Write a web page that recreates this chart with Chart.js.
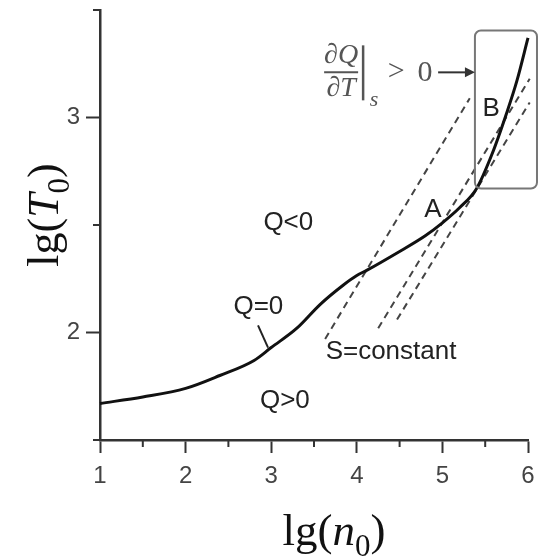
<!DOCTYPE html>
<html>
<head>
<meta charset="utf-8">
<script src="https://cdn.jsdelivr.net/npm/chart.js@4.4.1/dist/chart.umd.min.js"></script>
<style>
  html, body { margin: 0; padding: 0; background: #fff; }
  #wrap { width: 553px; height: 558px; }
</style>
</head>
<body>
<div id="wrap"><canvas id="phaseChart" width="553" height="558"></canvas></div>
<script>
// Q=0 curve
const curveX = [1, 1.5, 2, 2.4, 2.8, 3.0, 3.3, 3.57, 3.84, 4.0, 4.12, 4.47, 4.8, 5.0, 5.2, 5.4, 5.58, 5.75, 5.87, 6.0];
const curveY = [1.67, 1.70, 1.74, 1.80, 1.87, 1.93, 2.02, 2.13, 2.22, 2.265, 2.29, 2.37, 2.45, 2.51, 2.58, 2.67, 2.83, 3.02, 3.17, 3.37];

// S=constant lines (start, end)
const isoX1 = [3.63, 5.32];
const isoY1 = [1.97, 3.09];
const isoX2 = [4.25, 6.02];
const isoY2 = [2.02, 3.18];
const isoX3 = [4.47, 6.02];
const isoY3 = [2.06, 3.07];

const yTicks = [2, 3];
const xMinor = [1.5, 2.5, 3.5, 4.5, 5.5];
const yMinor = [1.5, 2.5, 3.5];

const labelText = ['Q<0', 'Q=0', 'Q>0', 'A', 'B', 'S=constant'];
const labelX = [3.20, 2.85, 3.16, 4.89, 5.57, 4.40];
const labelY = [2.51, 2.12, 1.68, 2.57, 3.04, 1.91];

const pointerX = [2.846, 2.963];
const pointerY = [2.033, 1.930];
const arrowX = [4.95, 5.38];
const arrowY = [3.21, 3.21];
const boxX = [5.38, 6.105];
const boxY = [3.405, 2.67];

const sansFont = '"Liberation Sans", Arial, sans-serif';
const serifFont = '"Liberation Serif", "Times New Roman", serif';

function toPoints(xs, ys) {
    return xs.map((x, i) => ({ x: x, y: ys[i] }));
}

function dashed(xs, ys) {
    return {
        data: toPoints(xs, ys),
        showLine: true,
        borderColor: '#444',
        borderWidth: 2,
        borderDash: [7, 5],
        pointRadius: 0,
        clip: false,
    };
}

// draws things like lg(T0) with italic letter and subscript
function drawMath(ctx, parts, size) {
    let widths = parts.map(p => {
        ctx.font = (p.italic ? 'italic ' : '') + Math.round(p.sub ? size * 0.7 : size) + 'px ' + serifFont;
        return ctx.measureText(p.t).width;
    });
    let total = widths.reduce((a, b) => a + b, 0);
    let x = -total / 2;
    parts.forEach((p, i) => {
        ctx.font = (p.italic ? 'italic ' : '') + Math.round(p.sub ? size * 0.7 : size) + 'px ' + serifFont;
        ctx.fillText(p.t, x, p.sub ? size * 0.25 : 0);
        x += widths[i];
    });
}

function drawDerivative(ctx, ax, ay) {
    ctx.save();
    ctx.fillStyle = '#555';
    ctx.strokeStyle = '#555';
    ctx.textAlign = 'center';
    ctx.textBaseline = 'middle';
    ctx.font = 'italic 28px ' + serifFont;
    ctx.fillText('\u2202Q', ax - 97, ay - 17);
    ctx.fillText('\u2202T', ax - 97, ay + 16);
    ctx.lineWidth = 2;
    ctx.beginPath();
    ctx.moveTo(ax - 114, ay);
    ctx.lineTo(ax - 80, ay);
    ctx.stroke();
    ctx.lineWidth = 2.5;
    ctx.beginPath();
    ctx.moveTo(ax - 75, ay - 27);
    ctx.lineTo(ax - 75, ay + 28);
    ctx.stroke();
    ctx.font = 'italic 22px ' + serifFont;
    ctx.fillText('s', ax - 64, ay + 28);
    ctx.font = '30px ' + serifFont;
    ctx.fillText('>', ax - 42, ay);
    ctx.fillText('0', ax - 13, ay + 1);
    ctx.restore();
}

const extras = {
    id: 'extras',
    afterDatasetsDraw(chart) {
        const ctx = chart.ctx;
        const xs = chart.scales.x;
        const ys = chart.scales.y;
        const area = chart.chartArea;

        ctx.save();
        // minor ticks
        ctx.strokeStyle = '#333';
        ctx.lineWidth = 2;
        xMinor.forEach(v => {
            const px = xs.getPixelForValue(v);
            ctx.beginPath();
            ctx.moveTo(px, area.bottom);
            ctx.lineTo(px, area.bottom + 7);
            ctx.stroke();
        });
        yMinor.forEach(v => {
            const py = ys.getPixelForValue(v);
            ctx.beginPath();
            ctx.moveTo(area.left - 7, py);
            ctx.lineTo(area.left, py);
            ctx.stroke();
        });

        // region labels
        ctx.fillStyle = '#222';
        ctx.font = '26px ' + sansFont;
        ctx.textAlign = 'center';
        ctx.textBaseline = 'middle';
        labelText.forEach((t, i) => {
            ctx.fillText(t, xs.getPixelForValue(labelX[i]), ys.getPixelForValue(labelY[i]));
        });

        // pointer from Q=0 to the curve
        ctx.strokeStyle = '#222';
        ctx.lineWidth = 2;
        ctx.beginPath();
        ctx.moveTo(xs.getPixelForValue(pointerX[0]), ys.getPixelForValue(pointerY[0]));
        ctx.lineTo(xs.getPixelForValue(pointerX[1]), ys.getPixelForValue(pointerY[1]));
        ctx.stroke();

        // box round region B
        const bx0 = xs.getPixelForValue(boxX[0]);
        const bx1 = xs.getPixelForValue(boxX[1]);
        const by0 = ys.getPixelForValue(boxY[0]);
        const by1 = ys.getPixelForValue(boxY[1]);
        ctx.strokeStyle = '#777';
        ctx.lineWidth = 2;
        ctx.beginPath();
        ctx.roundRect(bx0, by0, bx1 - bx0, by1 - by0, 6);
        ctx.stroke();

        // arrow
        const ax0 = xs.getPixelForValue(arrowX[0]);
        const ax1 = xs.getPixelForValue(arrowX[1]);
        const ay = ys.getPixelForValue(arrowY[0]);
        ctx.strokeStyle = '#333';
        ctx.fillStyle = '#333';
        ctx.lineWidth = 2;
        ctx.beginPath();
        ctx.moveTo(ax0, ay);
        ctx.lineTo(ax1 - 8, ay);
        ctx.stroke();
        ctx.beginPath();
        ctx.moveTo(ax1, ay);
        ctx.lineTo(ax1 - 10, ay - 5);
        ctx.lineTo(ax1 - 10, ay + 5);
        ctx.closePath();
        ctx.fill();

        drawDerivative(ctx, ax0, ay);

        // axis titles
        ctx.fillStyle = '#111';
        ctx.textAlign = 'left';
        ctx.textBaseline = 'alphabetic';
        ctx.save();
        ctx.translate(334, 545);
        drawMath(ctx, [{ t: 'lg(' }, { t: 'n', italic: true }, { t: '0', sub: true }, { t: ')' }], 45);
        ctx.restore();
        ctx.save();
        ctx.translate(58, 215);
        ctx.rotate(-Math.PI / 2);
        drawMath(ctx, [{ t: 'lg(' }, { t: 'T', italic: true }, { t: '0', sub: true }, { t: ')' }], 44);
        ctx.restore();
        ctx.restore();
    }
};

const ctx = document.getElementById('phaseChart').getContext('2d');
new Chart(ctx, {
    type: 'scatter',
    data: {
        datasets: [
            {
                data: toPoints(curveX, curveY),
                showLine: true,
                borderColor: '#111',
                borderWidth: 3,
                pointRadius: 0,
                cubicInterpolationMode: 'monotone',
                clip: false,
            },
            dashed(isoX1, isoY1),
            dashed(isoX2, isoY2),
            dashed(isoX3, isoY3),
        ],
    },
    options: {
        responsive: false,
        animation: false,
        layout: { padding: { top: 10, right: 25, left: 0, bottom: 0 } },
        plugins: { legend: { display: false }, tooltip: { enabled: false } },
        scales: {
            x: {
                type: 'linear',
                min: 1,
                max: 6,
                afterFit(scale) {
                    scale.height = 118;
                    scale.paddingLeft = 0;
                    scale.paddingRight = 0;
                },
                border: { color: '#333', width: 2.5 },
                grid: { drawOnChartArea: false, tickLength: 13, tickColor: '#333', tickWidth: 2 },
                ticks: { stepSize: 1, color: '#444', padding: 9, font: { family: sansFont, size: 24 } },
            },
            y: {
                type: 'linear',
                min: 1.5,
                max: 3.5,
                afterFit(scale) {
                    scale.width = 100;
                    scale.paddingTop = 0;
                    scale.paddingBottom = 0;
                },
                afterBuildTicks(scale) { scale.ticks = yTicks.map(v => ({ value: v })); },
                border: { color: '#333', width: 2.5 },
                grid: { drawOnChartArea: false, tickLength: 14, tickColor: '#333', tickWidth: 2 },
                ticks: { color: '#444', padding: 6, font: { family: sansFont, size: 24 } },
            },
        },
    },
    plugins: [extras],
});
</script>
</body>
</html>
